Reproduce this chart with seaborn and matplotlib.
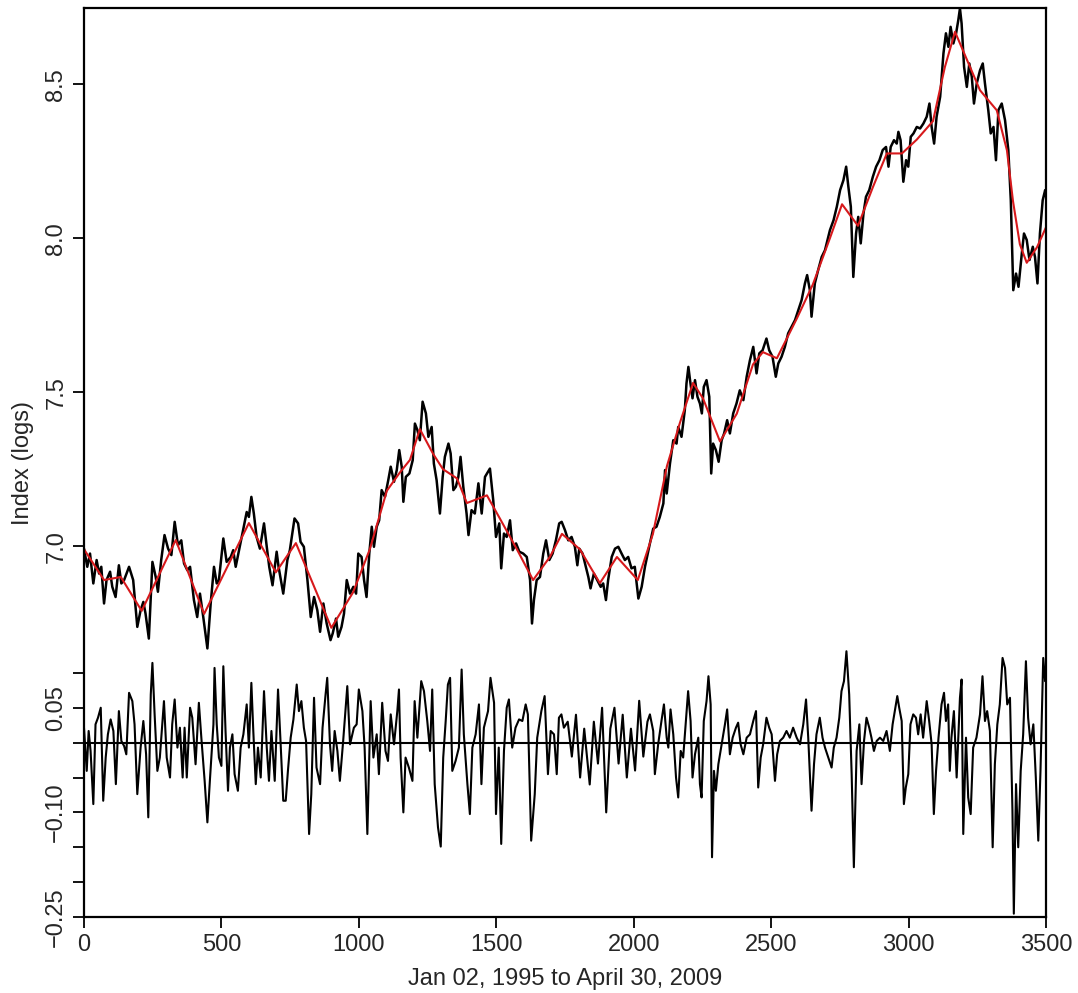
import numpy as np
import pandas as pd
import seaborn as sns
import matplotlib
matplotlib.use('Agg')
import matplotlib.pyplot as plt

main_idx = [0, 12, 22, 34, 46, 55, 63, 73, 82, 95, 103, 115, 127, 136, 146, 164, 179, 194, 206, 216,
            224, 236, 249, 261, 269, 281, 293, 306, 318, 330, 342, 354, 364, 376, 386, 400, 412, 422, 434, 449,
            461, 473, 483, 491, 507, 519, 534, 543, 552, 568, 580, 592, 600, 609, 618, 628, 640, 655, 665, 674,
            686, 701, 708, 725, 740, 749, 766, 779, 788, 800, 813, 825, 837, 849, 859, 871, 883, 897,
            905, 917, 925, 937, 946, 956, 968, 980, 990, 998, 1010, 1019, 1028, 1038, 1047, 1055, 1065, 1074,
            1083, 1095, 1107, 1116, 1128, 1138, 1147, 1156, 1162, 1171, 1184, 1196, 1204, 1213, 1222, 1232, 1244,
            1253, 1265, 1273, 1283, 1295, 1305, 1313, 1326, 1334, 1344, 1353, 1362, 1370, 1380, 1392, 1399, 1410,
            1422, 1435, 1447, 1459, 1477, 1489, 1499, 1511, 1518, 1528, 1538, 1550, 1560, 1572, 1584, 1598, 1611,
            1623, 1630, 1637, 1647, 1659, 1671, 1681, 1693, 1705, 1717, 1729, 1738, 1750, 1762, 1774, 1786, 1795,
            1802, 1814, 1823, 1835, 1843, 1855, 1867, 1880, 1889, 1899, 1907, 1920, 1932, 1944, 1956, 1968, 1980,
            1992, 2004, 2017, 2029, 2041, 2059, 2071, 2083, 2095, 2108, 2114, 2120, 2132, 2144, 2156, 2162, 2174,
            2186, 2192, 2199, 2205, 2214, 2223, 2232, 2241, 2248, 2255, 2265, 2275, 2282, 2289, 2299, 2309, 2320,
            2329, 2340, 2350, 2362, 2374, 2386, 2399, 2411, 2423, 2435, 2447, 2457, 2469, 2483, 2493, 2505, 2517,
            2526, 2538, 2550, 2562, 2574, 2587, 2599, 2611, 2623, 2631, 2641, 2647, 2659, 2671, 2684, 2696, 2708,
            2714, 2727, 2739, 2751, 2763, 2773, 2781, 2790, 2799, 2809, 2817, 2826, 2836, 2845, 2857, 2870, 2882,
            2894, 2906, 2918, 2927, 2935, 2947, 2957, 2963, 2971, 2981, 2991, 2999, 3008, 3018, 3030, 3042, 3054,
            3066, 3076, 3084, 3093, 3102, 3115, 3127, 3136, 3145, 3153, 3163, 3173, 3181, 3187, 3193, 3202, 3212,
            3221, 3230, 3238, 3248, 3260, 3270, 3278, 3290, 3299, 3309, 3318, 3327, 3339, 3351, 3363, 3372, 3381,
            3391, 3400, 3412, 3420, 3430, 3440, 3452, 3460, 3469, 3478, 3488, 3497, 3500]
main_val = [6.992, 6.933, 6.976, 6.879, 6.955, 6.911, 6.933, 6.814, 6.890, 6.917, 6.868, 6.835, 6.938, 6.879,
            6.890, 6.933, 6.890, 6.738, 6.792, 6.819, 6.781, 6.700, 6.949, 6.900, 6.852, 6.955, 7.036, 6.992,
            6.971, 7.079, 7.003, 7.019, 6.944, 6.922, 6.933, 6.825, 6.770, 6.846, 6.770, 6.668, 6.814, 6.933,
            6.879, 6.890, 7.025, 6.949, 6.965, 6.987, 6.933, 7.003, 7.057, 7.111, 7.095, 7.160, 7.106, 7.030,
            6.992, 7.074, 6.998, 6.933, 6.873, 6.982, 6.933, 6.846, 6.955, 6.987, 7.090, 7.074, 7.014, 6.998,
            6.890, 6.770, 6.835, 6.792, 6.722, 6.814, 6.749, 6.695,
            6.717, 6.765, 6.706, 6.738, 6.781, 6.890, 6.846, 6.868, 6.846, 6.976, 6.965, 6.890, 6.835, 6.976,
            7.063, 6.998, 7.063, 7.084, 7.182, 7.160, 7.214, 7.258, 7.209, 7.247, 7.312, 7.258, 7.144, 7.225,
            7.236, 7.279, 7.398, 7.377, 7.344, 7.469, 7.431, 7.355, 7.387, 7.268, 7.214, 7.106, 7.225, 7.290,
            7.333, 7.301, 7.182, 7.193, 7.225, 7.290, 7.193, 7.106, 7.036, 7.117, 7.106, 7.204, 7.106, 7.225,
            7.252, 7.149, 7.030, 7.074, 6.928, 7.041, 7.030, 7.084, 6.987, 7.009, 6.982, 6.976, 6.965, 6.890,
            6.749, 6.825, 6.890, 6.900, 6.976, 7.019, 6.955, 6.976, 7.019, 7.074, 7.079, 7.052, 7.019, 7.030,
            6.998, 6.938,
            6.992, 6.976, 6.944, 6.900, 6.863, 6.911, 6.890, 6.868, 6.879, 6.825, 6.890, 6.965, 6.992, 6.998,
            6.976, 6.955, 6.965, 6.928, 6.933, 6.830, 6.868, 6.933, 7.009, 7.057, 7.063, 7.095, 7.139, 7.247,
            7.171, 7.268, 7.344, 7.333, 7.387, 7.355, 7.442, 7.528, 7.582, 7.539, 7.480, 7.539, 7.485, 7.463,
            7.431, 7.517, 7.539, 7.485, 7.236, 7.333, 7.312, 7.274, 7.344, 7.366, 7.409, 7.366, 7.431, 7.463,
            7.506, 7.474, 7.550, 7.604, 7.647, 7.561, 7.626, 7.636, 7.674, 7.636, 7.615, 7.550, 7.593, 7.615,
            7.647, 7.691, 7.712, 7.734, 7.766, 7.799, 7.853, 7.880, 7.831, 7.745, 7.853, 7.896, 7.939, 7.961,
            8.004,
            8.026, 8.058, 8.102, 8.156, 8.188, 8.232, 8.167, 8.102, 7.874, 8.015, 8.069, 7.983, 8.080, 8.134,
            8.156, 8.199, 8.232, 8.253, 8.286, 8.296, 8.232, 8.296, 8.318, 8.307, 8.345, 8.318, 8.183, 8.253,
            8.232, 8.329, 8.340, 8.361, 8.356, 8.372, 8.394, 8.437, 8.361, 8.307, 8.394, 8.459, 8.600, 8.665,
            8.621, 8.686, 8.632, 8.665, 8.708, 8.746, 8.697, 8.556, 8.491, 8.567, 8.524, 8.437, 8.502, 8.545,
            8.567, 8.502, 8.416, 8.340, 8.361, 8.253, 8.416, 8.437, 8.383, 8.286, 8.123, 7.831, 7.885, 7.842,
            7.950, 8.015, 7.994, 7.929, 7.972, 7.939, 7.853, 8.015, 8.123, 8.156, 8.134]

# Smooth trend (red curve)
trend_idx = [0, 73, 134, 210, 334, 437, 600, 698, 771, 900, 979, 1040, 1102, 1150, 1186, 1222, 1270, 1306,
             1357, 1393, 1466, 1513, 1575, 1634, 1695, 1739, 1804, 1877, 1939, 2015, 2070, 2121, 2168, 2216,
             2252, 2314, 2375, 2434, 2470, 2521, 2594, 2652, 2714, 2758, 2816, 2870, 2921, 2976, 3030, 3089,
             3132, 3169, 3212, 3260, 3321, 3358, 3380, 3405, 3430, 3467, 3500]
trend_val = [6.99, 6.89, 6.90, 6.79, 7.02, 6.78, 7.075, 6.915, 7.01, 6.735, 6.85, 6.99, 7.18, 7.24, 7.28,
             7.38, 7.30, 7.25, 7.22, 7.14, 7.165, 7.09, 6.99, 6.89, 6.965, 7.04, 6.99, 6.88, 6.965, 6.89, 7.04,
             7.26, 7.40, 7.53, 7.48, 7.34, 7.43, 7.59, 7.63, 7.61, 7.74, 7.85, 8.00, 8.11, 8.04, 8.165, 8.275,
             8.275, 8.32, 8.38, 8.555, 8.67, 8.58, 8.48, 8.415, 8.285, 8.12, 7.98, 7.92, 7.97, 8.035]

# Residuals (lower panel)
resid_idx = [0, 10, 17, 24, 34, 42, 51, 61, 70, 79, 87, 97, 107, 116, 127, 136, 146, 154, 164, 176, 184, 194,
             206, 216, 226, 234, 243, 249, 257, 267, 276, 291, 301, 313, 321, 330, 340, 349, 359, 366, 374, 386,
             394, 406, 418, 427, 439, 449, 458, 471, 475, 483, 491, 500, 507, 515, 524, 531, 540, 548, 560, 570,
             580, 592, 600, 609, 616, 625, 633, 643, 655, 665, 673, 682, 694, 706, 715, 725, 734, 742, 752, 762,
             774, 782, 791, 800, 808, 819, 827, 837, 846, 859, 868, 879, 885, 895, 903, 912, 922, 931, 943, 958,
             968, 982, 992, 1000, 1013, 1021, 1031, 1043, 1053, 1065, 1073, 1085, 1097, 1106, 1116, 1128, 1140,
             1146, 1152, 1162, 1170, 1182, 1195, 1203, 1213, 1227, 1237, 1249, 1259, 1267, 1276, 1288, 1298, 1307,
             1316, 1324, 1332, 1340, 1352, 1364, 1374, 1382, 1395, 1404, 1413, 1425, 1437, 1446, 1455, 1470, 1479,
             1492, 1499, 1509, 1518, 1528, 1538, 1546, 1558, 1570, 1583, 1595, 1607, 1615, 1627, 1640, 1649, 1664,
             1676, 1688, 1698, 1710, 1720, 1728, 1737, 1746,
             1760, 1775, 1790, 1805, 1820, 1840, 1855, 1870, 1885, 1900, 1915, 1930, 1945, 1960, 1975, 1990, 2005,
             2020, 2035, 2050,
             2059, 2071, 2077, 2089, 2101, 2110, 2120, 2126, 2134, 2144, 2154, 2162, 2171, 2180, 2190, 2198, 2207,
             2214, 2223, 2235, 2241, 2247, 2255, 2265, 2272, 2280, 2285, 2292, 2299, 2308, 2320, 2332, 2340, 2350,
             2360, 2372, 2380, 2389, 2399, 2411, 2423, 2435, 2445, 2453, 2462, 2471, 2483, 2493, 2502, 2514, 2522,
             2532, 2544, 2556, 2568, 2580, 2593, 2605, 2617, 2627, 2635, 2647, 2656, 2665, 2677, 2687, 2696, 2708,
             2720, 2728, 2738, 2748, 2756, 2765, 2774, 2784, 2793, 2801, 2811, 2821, 2829, 2838, 2847, 2857, 2865,
             2874, 2884, 2896, 2908, 2920, 2932, 2942, 2950, 2959, 2966, 2975, 2983, 2990, 2999, 3007, 3017, 3027,
             3035, 3044, 3053, 3066, 3075, 3084, 3092, 3100, 3109, 3120, 3129, 3136, 3144, 3150, 3156, 3165, 3175,
             3187, 3193, 3199, 3209, 3217, 3226, 3235, 3247, 3260, 3269, 3278, 3286, 3296, 3306, 3314, 3323, 3332,
             3342, 3351, 3359, 3369, 3378, 3383, 3391, 3399, 3408, 3417, 3427, 3435, 3444, 3454, 3463, 3472, 3480,
             3490, 3497, 3500]
resid_val = [0.0214, -0.0405, 0.0167, -0.0119, -0.0881, 0.0262, 0.0357, 0.05, -0.0833, -0.0214, 0.0119,
             0.0333, 0.0167, -0.0595, 0.0452, 0.0024, -0.0048, -0.0167, 0.0714, 0.0595, 0.0262, -0.0738,
             -0.0071, 0.031, -0.0167, -0.1071, 0.069, 0.1143, 0.0405, -0.0405, -0.0214, 0.0595, -0.0214, -0.05,
             0.0262, 0.0619, -0.0071, 0.0214, -0.05, 0.0214, -0.05, 0.05, 0.0357, -0.031, 0.0571, 0.0071,
             -0.0548, -0.1143, -0.0548, 0.0262, 0.1071, 0.0262, -0.0214, -0.0333, 0.1095, 0.0167, -0.069,
             -0.0071, 0.0119, -0.0452, -0.069, -0.0071, 0.0119, 0.0548, -0.0071, 0.0857, 0.0167, -0.0595,
             -0.0071, -0.05, 0.0738, -0.0071, -0.0548, 0.0167, -0.0548, 0.0762, 0.0024, -0.0833, -0.0833,
             -0.0405, 0.0071, 0.0333, 0.0833, 0.0452, 0.0595, 0.0214, 0.0024, -0.131, -0.0738, 0.0643, -0.0357,
             -0.0595, 0.0214, 0.069, 0.0929, -0.0024, -0.0405, 0.0167, -0.0119, -0.0548, 0.0024, 0.081, -0.0024,
             0.0214, 0.0262, 0.0762, 0.0452, -0.0071, -0.131, 0.0595, -0.0214, 0.0119, -0.0452, 0.0571, -0.0119,
             -0.0262, 0.0405, -0.0024, 0.0452, 0.0762, -0.0214, -0.1, -0.0214, -0.0357, -0.0548, 0.0595, 0.0071,
             0.0881, 0.0738, 0.031, -0.0119, 0.0762, -0.0595, -0.1214, -0.149, -0.0214, 0.031, 0.0833, 0.0929,
             -0.0405, -0.0262, -0.0071, 0.1048, 0.0119, -0.0595, -0.1024, -0.0071, 0.0119, 0.0548, -0.0595,
             0.0214, 0.0452, 0.0929, 0.0571, -0.1024, -0.0071, -0.1452, -0.0119, 0.05, 0.0619, -0.0071, 0.0214,
             0.0333, 0.031, 0.0548, 0.0405, -0.1405, -0.0738, 0.0071, 0.0452, 0.0667, -0.0452, 0.0167, 0.0119,
             -0.0452, 0.0357, 0.0405, 0.0214,
             0.03, -0.02, 0.04, -0.05, 0.02, -0.06, 0.03, -0.03, 0.05, -0.10, 0.02, 0.05, -0.03, 0.04, -0.05,
             0.02, -0.04, 0.06, -0.02, 0.03,
             0.0405, 0.0167, -0.0452, -0.0024, 0.031, 0.0548, 0.0071, -0.0071, 0.0476, 0.0119, -0.05, -0.0786,
             -0.0119, -0.0214, 0.031, 0.0738, 0.031, -0.05, -0.0167, 0.0071, -0.0595, -0.0786, 0.031, 0.0595,
             0.0952, 0.0548, -0.1643, -0.0405, -0.069, -0.031, -0.0024, 0.0262, 0.0476, -0.0167, 0.0071, 0.0214,
             0.0286, -0.0024, -0.0167, 0.0071, 0.0119, 0.031, 0.0452, -0.0643, -0.0214, -0.0024, 0.0357, 0.0214,
             0.0119, -0.0548, -0.0167, 0.0024, 0.0071, 0.0167, 0.0071, 0.0214, 0.0071, -0.0024, 0.0262, 0.0619,
             0.0071, -0.0976, -0.031, 0.0119, 0.0357, 0.0071, -0.0071, -0.0214, -0.0357, -0.0071, 0.0071,
             0.0357, 0.0738, 0.0881, 0.131, 0.069, -0.0452, -0.1786, -0.0119, 0.0262, -0.0595, 0.0024, 0.0357,
             0.0214, 0.0071, -0.0119, 0.0024, 0.0071, 0.0024, 0.0167, -0.0119, 0.0262, 0.0452, 0.0667, 0.05,
             0.031, -0.0881, -0.0643, -0.0452, 0.0262, 0.0405, 0.0357, 0.0119, 0.0405, 0.0071, 0.0595, 0.031,
             -0.0024, -0.1024, -0.0405, 0.0071, 0.0548, 0.0714, 0.031, 0.0548, -0.0405, 0.0071, 0.0452, -0.05,
             0.0643, 0.0905, -0.131, 0.0071, -0.0786, -0.1024, -0.0071, 0.0071, 0.0405, 0.0952, 0.031, 0.0452,
             0.0167, -0.15, -0.031, 0.0262, 0.0548, 0.1214, 0.1071, 0.0548, 0.0643, -0.0976, -0.2452, -0.0595,
             -0.15, -0.0405, 0.0119, 0.1167, 0.0357, -0.0024, 0.0262, -0.05, -0.1405, -0.0405, 0.1214, 0.0881,
             0.1024]

x_ticks = [0, 500, 1000, 1500, 2000, 2500, 3000, 3500]
main_ticks = [7.0, 7.5, 8.0, 8.5]
resid_ticks = [0.10, 0.05, 0.0, -0.05, -0.10, -0.15, -0.20, -0.25]
resid_labels = ['', '0.05', '', '', '\u22120.10', '', '', '\u22120.25']

sns.set_style('ticks')
plt.rcParams['font.family'] = ['Liberation Sans', 'DejaVu Sans']
FS = 17

fig = plt.figure(figsize=(10.78, 9.93), dpi=100)
rect = [0.0779, 0.0765, 0.8924, 0.9154]
ax = fig.add_axes(rect)
ax2 = fig.add_axes(rect, sharex=ax, frameon=False)
ax2.patch.set_visible(False)

sns.lineplot(x=main_idx, y=main_val, ax=ax, color='black', lw=1.8, estimator=None)
sns.lineplot(x=trend_idx, y=trend_val, ax=ax, color='#d7191c', lw=1.5, estimator=None)
sns.lineplot(x=resid_idx, y=resid_val, ax=ax2, color='black', lw=1.5, estimator=None)
ax2.axhline(0, color='black', lw=1.5)

ax.set_xlim(0, 3500)
ax.set_ylim(5.796, 8.747)
ax2.set_ylim(-0.25, 1.053)

ax.set_xticks(x_ticks)
ax.set_yticks(main_ticks)
ax.set_yticklabels(['7.0', '7.5', '8.0', '8.5'])
ax2.set_yticks(resid_ticks)
ax2.set_yticklabels(resid_labels)

for a in (ax, ax2):
    a.tick_params(axis='both', direction='out', length=8, width=1.3, labelsize=FS, color='black', pad=4)
    for lab in a.get_yticklabels():
        lab.set_rotation(90)
        lab.set_va('center')
ax2.tick_params(axis='x', bottom=False, labelbottom=False)
ax.tick_params(axis='x', pad=4)

for s in ax.spines.values():
    s.set_linewidth(1.6)
    s.set_color('black')

ax.set_xlabel('Jan 02, 1995 to April 30, 2009', fontsize=FS, labelpad=9)
ax.set_ylabel('Index (logs)', fontsize=FS, labelpad=8)
ax2.set_xlabel('')
ax2.set_ylabel('')

fig.savefig('out.png', dpi=100)
